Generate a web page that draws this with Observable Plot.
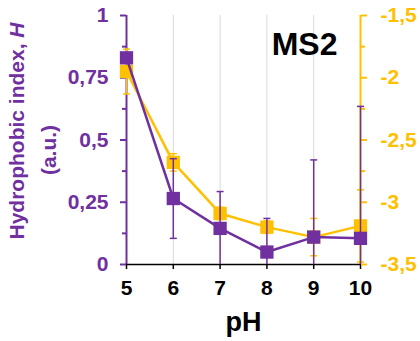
<!DOCTYPE html>
<html>
<head>
<meta charset="utf-8">
<script src="https://cdn.jsdelivr.net/npm/d3@7"></script>
<script src="https://cdn.jsdelivr.net/npm/@observablehq/plot@0.6"></script>
<style>
  html, body { margin: 0; padding: 0; background: #fff; }
  #chart svg { display: block; }
</style>
</head>
<body>
<div id="chart"></div>
<script>
// ---- data ----
const pH = [5, 6, 7, 8, 9, 10];
const hydrophobicIndex = [0.83, 0.265, 0.145, 0.05, 0.11, 0.105];
const hydrophobicError = [0.02, 0.16, 0.148, 0.135, 0.31, 0.53];
const rightSeries = [-1.95, -2.68, -3.09, -3.20, -3.28, -3.19];
const rightError = [0.18, 0.07, 0.05, 0.05, 0.15, 0.29];
const leftTicks = [0, 0.25, 0.5, 0.75, 1];
const leftMinorTicks = [0.125, 0.375, 0.625, 0.875];
const rightTicks = [-1.5, -2, -2.5, -3, -3.5];
const rightMinorTicks = [-1.75, -2.25, -2.75, -3.25];
const gridPH = [6, 7, 8, 9];

const PURPLE = "#7030A0";
const YELLOW = "#FFC000";
const FONT = "'Liberation Sans', Arial, Helvetica, sans-serif";

// right axis [-3.5, -1.5] mapped onto left axis [0, 1]
const toLeft = v => (v + 3.5) / 2;
const fromLeft = h => Math.round((h * 2 - 3.5) * 100) / 100;
const fmt = d => String(d).replace(".", ",");

const purple = pH.map((p, i) => ({pH: p, v: hydrophobicIndex[i], e: hydrophobicError[i]}));
const yellow = pH.map((p, i) => ({pH: p, v: toLeft(rightSeries[i]), e: rightError[i] / 2}));

const capSymbol = { draw(ctx) { ctx.moveTo(-3.5, 0); ctx.lineTo(3.5, 0); } };

const axisText = {fontSize: 21, fontWeight: "bold"};

const chart = Plot.plot({
  width: 420,
  height: 341,
  marginLeft: 126,
  marginRight: 60,
  marginTop: 15,
  marginBottom: 77,
  style: {fontFamily: FONT, background: "#fff"},
  x: {domain: [5, 10], axis: null},
  y: {domain: [0, 1], axis: null},
  marks: [
    Plot.ruleX(gridPH, {stroke: "#d9d9d9", strokeWidth: 1}),
    // axes
    Plot.axisX({ticks: pH, tickSize: 5, tickPadding: 11, tickFormat: d => String(d), stroke: "#000", fill: "#000", strokeWidth: 1.5, label: null, ...axisText}),
    Plot.axisY({anchor: "left", ticks: leftTicks, tickSize: 6, tickPadding: 12, tickFormat: fmt, stroke: PURPLE, fill: PURPLE, strokeWidth: 2, label: null, ...axisText}),
    Plot.axisY({anchor: "left", ticks: leftMinorTicks, tickSize: 4, tickFormat: () => "", stroke: PURPLE, strokeWidth: 2, label: null}),
    Plot.axisY({anchor: "right", ticks: rightTicks.map(toLeft), tickSize: 6, tickPadding: 14, tickFormat: d => fmt(fromLeft(d)), stroke: YELLOW, fill: YELLOW, strokeWidth: 2, label: null, ...axisText}),
    Plot.axisY({anchor: "right", ticks: rightMinorTicks.map(toLeft), tickSize: 4, tickFormat: () => "", stroke: YELLOW, strokeWidth: 2, label: null}),
    Plot.ruleX([5], {stroke: PURPLE, strokeWidth: 2}),
    Plot.ruleX([10], {stroke: YELLOW, strokeWidth: 2}),
    Plot.ruleY([0], {stroke: "#000", strokeWidth: 1.5}),
    // yellow series (right axis)
    Plot.ruleX(yellow, {x: "pH", y1: d => Math.max(0, d.v - d.e), y2: d => Math.min(1, d.v + d.e), stroke: YELLOW, strokeWidth: 1.5}),
    Plot.dot(yellow.flatMap(d => [{pH: d.pH, y: d.v - d.e}, {pH: d.pH, y: d.v + d.e}]).filter(d => d.y >= 0 && d.y <= 1),
      {x: "pH", y: "y", symbol: capSymbol, stroke: YELLOW, strokeWidth: 1.5}),
    Plot.line(yellow, {x: "pH", y: "v", stroke: YELLOW, strokeWidth: 2.5}),
    Plot.dot(yellow, {x: "pH", y: "v", symbol: "square", r: 7.5, fill: YELLOW, stroke: null}),
    // purple series (left axis)
    Plot.ruleX(purple, {x: "pH", y1: d => Math.max(0, d.v - d.e), y2: d => Math.min(1, d.v + d.e), stroke: PURPLE, strokeWidth: 1.5}),
    Plot.dot(purple.flatMap(d => [{pH: d.pH, y: d.v - d.e}, {pH: d.pH, y: d.v + d.e}]).filter(d => d.y >= 0 && d.y <= 1),
      {x: "pH", y: "y", symbol: capSymbol, stroke: PURPLE, strokeWidth: 1.5}),
    Plot.line(purple, {x: "pH", y: "v", stroke: PURPLE, strokeWidth: 2.5}),
    Plot.dot(purple, {x: "pH", y: "v", symbol: "square", r: 7.5, fill: PURPLE, stroke: null}),
    // annotations
    Plot.text(["MS2"], {frameAnchor: "top-right", textAnchor: "end", lineAnchor: "middle", dx: -23, dy: 29, fontSize: 32, fontWeight: "bold", fill: "#000"}),
    Plot.text(["pH"], {frameAnchor: "bottom", lineAnchor: "middle", dy: 58, fontSize: 27, fontWeight: "bold", fill: "#000"})
  ]
});

const svg = d3.select(chart);
svg.append("text")
  .attr("transform", "translate(24,131) rotate(-90)")
  .attr("text-anchor", "middle")
  .attr("font-family", FONT)
  .attr("font-size", 21)
  .attr("font-weight", "bold")
  .attr("fill", PURPLE)
  .call(t => {
    t.append("tspan").text("Hydrophobic index, ");
    t.append("tspan").attr("font-style", "italic").text("H");
  });
svg.append("text")
  .attr("transform", "translate(56,150) rotate(-90)")
  .attr("text-anchor", "middle")
  .attr("font-family", FONT)
  .attr("font-size", 21)
  .attr("font-weight", "bold")
  .attr("fill", PURPLE)
  .text("(a.u.)");

document.getElementById("chart").appendChild(chart);
</script>
</body>
</html>
